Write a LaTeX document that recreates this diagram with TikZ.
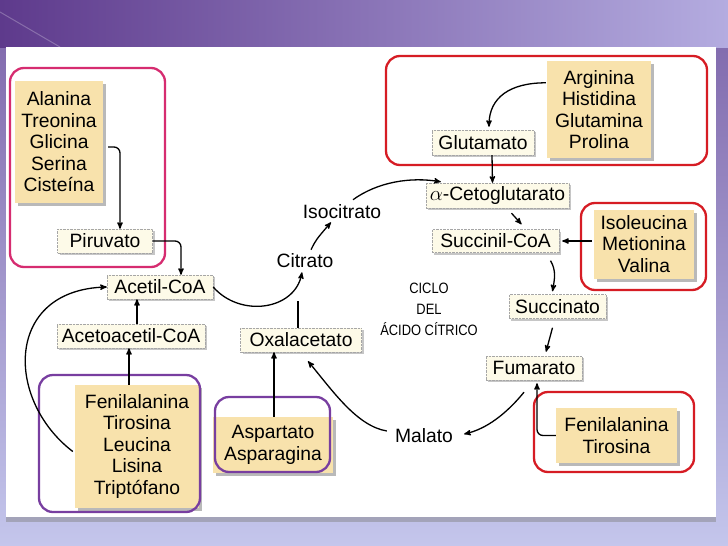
\documentclass[tikz,border=0pt]{standalone}
\usepackage{fontspec}
\setmainfont{Liberation Sans}
\newfontfamily\condensedfont[FakeStretch=0.86]{Liberation Sans}
\usetikzlibrary{arrows,shadows,positioning}

\definecolor{aminoFill}{RGB}{248,226,172}
\definecolor{metabFill}{RGB}{253,250,232}
\definecolor{pinkLine}{RGB}{214,44,112}
\definecolor{purpleLine}{RGB}{120,62,160}
\definecolor{redLine}{RGB}{214,28,36}
\definecolor{bgDark}{RGB}{94,58,140}
\definecolor{bgMid}{RGB}{180,172,224}
\definecolor{bgLight}{RGB}{196,198,236}

\begin{document}
\begin{tikzpicture}
    [x=1pt, y=-1pt,
    metab/.style 2 args={
        draw=gray!70,
        densely dotted,
        fill=metabFill,
        font=\fontsize{19.3}{21.5}\selectfont,
        minimum width=#1,
        minimum height=#2,
        inner sep=2pt,
        drop shadow={shadow xshift=2pt,shadow yshift=-2pt,fill=gray!45,opacity=1}
    },
    metab/.default={100pt}{24pt},
    amino/.style 2 args={
        fill=aminoFill,
        align=center,
        font=\fontsize{19.3}{21.5}\selectfont,
        minimum width=#1,
        minimum height=#2,
        inner sep=0pt,
        drop shadow={shadow xshift=3pt,shadow yshift=-3pt,fill=gray!55,opacity=1}
    },
    plain text/.style={font=\fontsize{19.3}{21.5}\selectfont, inner sep=2pt},
    cycle title/.style={font=\condensedfont\fontsize{15}{21}\selectfont, align=center},
    group/.style={draw=#1, line width=2.3pt, rounded corners=14pt},
    arrow/.style={>=stealth', ->, line width=1.3pt},
    plain line/.style={line width=1.3pt}]

    \useasboundingbox (0,0) rectangle (728,546);

    %%% background
    \shade[top color=bgDark!70!bgLight, bottom color=bgLight] (0,0) rectangle (728,546);
    \shade[left color=bgDark, right color=bgMid] (0,0) rectangle (728,47);
    \draw[white, opacity=.25, line width=1pt] (0,12) -- (60,47);
    \fill[white, drop shadow={shadow xshift=0pt,shadow yshift=-5pt,opacity=.45}] (6,47) rectangle (716,517);

    %%% content
    \node (aminoPiruvato) [amino={88pt}{122pt}] at (59,142) {Alanina\\Treonina\\Glicina\\Serina\\Cisteína};
    \node (piruvato) [metab={95pt}{24pt}] at (105,241) {Piruvato};
    \node (acetilCoA) [metab={106pt}{24pt}] at (160,287) {Acetil-CoA};
    \node (acetoacetilCoA) [metab={148pt}{24pt}] at (131,336) {Acetoacetil-CoA};
    \node (aminoAcetil) [amino={124pt}{123pt}] at (137,446.5) {Fenilalanina\\Tirosina\\Leucina\\Lisina\\Triptófano};

    \node (oxalacetato) [metab={121pt}{24pt}] at (301,340) {Oxalacetato};
    \node (aminoOxal) [amino={120pt}{56pt}] at (273,445) {Aspartato\\Asparagina};
    \node (citrato) [plain text] at (305,261) {Citrato};
    \node (isocitrato) [plain text] at (342,212) {Isocitrato};
    \node (cicloLabel) [cycle title] at (429,309) {CICLO\\DEL\\ÁCIDO CÍTRICO};

    \node (glutamato) [metab={102pt}{25pt}] at (483,142.5) {Glutamato};
    \node (aminoCeto) [amino={104pt}{97pt}] at (599,109.5) {Arginina\\Histidina\\Glutamina\\Prolina};
    \node (cetoglutarato) [metab={143pt}{25pt}] at (497.5,195.5) {$\alpha$-Cetoglutarato};
    \node (succinilCoA) [metab={127pt}{23pt}] at (495.5,241) {Succinil-CoA};
    \node (aminoSuccinil) [amino={100pt}{69pt}] at (644,244) {Isoleucina\\Metionina\\Valina};
    \node (succinato) [metab={97pt}{24pt}] at (557.5,306.5) {Succinato};
    \node (fumarato) [metab={96pt}{24pt}] at (534,368) {Fumarato};
    \node (aminoFumarato) [amino={121pt}{55pt}] at (616.5,435.5) {Fenilalanina\\Tirosina};
    \node (malato) [plain text] at (424,436) {Malato};

    %% groups
    \draw[group=pinkLine] (10,68) rectangle (165,267);
    \draw[group=purpleLine] (39,375) rectangle (200,512);
    \draw[group=purpleLine] (215,397) rectangle (330,472);
    \draw[group=redLine] (386,56) rectangle (707,165);
    \draw[group=redLine] (581,203) rectangle (706,290);
    \draw[group=redLine] (534,392) rectangle (694,472);

    %% lines
    \draw[arrow, rounded corners=6pt] ([xshift=5pt,yshift=-5pt]aminoPiruvato.east) -| ([xshift=15pt]piruvato.north);
    \draw[arrow, rounded corners=6pt] (piruvato.east) -| ([xshift=21pt]acetilCoA.north);
    \draw[arrow] ([xshift=6pt]acetoacetilCoA.north) -- ([xshift=-23pt]acetilCoA.south);
    \draw[arrow] ([xshift=-8pt]aminoAcetil.north) -- ([xshift=-2pt]acetoacetilCoA.south);
    \draw[arrow] ([xshift=-2pt,yshift=-5pt]aminoAcetil.west) .. controls +(-68,-52) and +(-102,3) .. (acetilCoA.west);
    \draw[arrow] (acetilCoA.east) .. controls +(27,31) and +(-7,38) .. ([xshift=-3pt,yshift=-2pt]citrato.south);
    \draw[plain line] ([xshift=-3pt]oxalacetato.north) -- ++(0,-27);
    \draw[arrow] ([xshift=1pt]aminoOxal.north) -- ([xshift=-27pt]oxalacetato.south);
    \draw[arrow] ([xshift=6pt,yshift=2pt]citrato.north) .. controls +(5,-10) .. ([xshift=-11pt,yshift=-1pt]isocitrato.south);
    \draw[arrow] ([xshift=11pt,yshift=3pt]isocitrato.north) .. controls +(25,-18) and +(-30,-5) .. ([xshift=15pt,yshift=1pt]cetoglutarato.north west);
    \draw[arrow] ([xshift=-1pt,yshift=-22pt]aminoCeto.north west) .. controls +(-35,0) and +(0,-30) .. ([xshift=6pt,yshift=3pt]glutamato.north);
    \draw[arrow] ([xshift=9pt]glutamato.south) -- ([xshift=-5pt]cetoglutarato.north);
    \draw[arrow] ([xshift=14pt,yshift=-5pt]cetoglutarato.south) -- ([xshift=26pt,yshift=5pt]succinilCoA.north);
    \draw[arrow] ([xshift=-2pt,yshift=3pt]aminoSuccinil.west) -- ([xshift=3pt]succinilCoA.east);
    \draw[arrow] ([xshift=55pt,yshift=-8pt]succinilCoA.south) .. controls +(6,10) and +(2,-12) .. ([xshift=-5pt,yshift=3pt]succinato.north);
    \draw[arrow] ([xshift=-5pt,yshift=-9pt]succinato.south) -- ([xshift=12pt,yshift=4pt]fumarato.north);
    \draw[arrow, rounded corners=6pt] (aminoFumarato.west) -| ([xshift=3pt,yshift=-3pt]fumarato.south);
    \draw[arrow] ([xshift=-10pt,yshift=-12pt]fumarato.south) .. controls +(-18,22) and +(22,-5) .. ([xshift=9pt,yshift=2pt]malato.east);
    \draw[arrow] ([xshift=-6pt,yshift=5pt]malato.west) .. controls +(-30,-5) and +(25,30) .. ([xshift=7pt,yshift=-9pt]oxalacetato.south);
\end{tikzpicture}
\end{document}
